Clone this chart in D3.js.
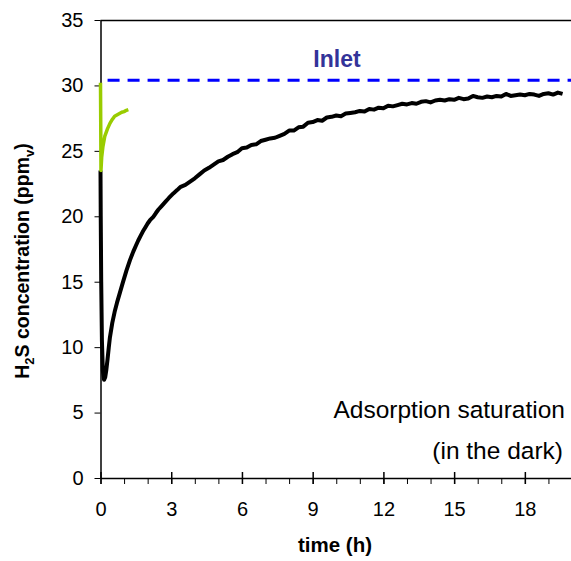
<!DOCTYPE html>
<html>
<head>
<meta charset="utf-8">
<script src="https://cdn.jsdelivr.net/npm/d3@7"></script>
<style>
  body { margin: 0; background: #fff; }
  text { font-family: Arial, "Liberation Sans", sans-serif; }
</style>
</head>
<body>
<div id="chart"></div>
<script>
// saturation run in the dark: [time h, H2S ppmv]
const darkRun = [
  [0, 23.5], [0.01, 20], [0.03, 15], [0.06, 10.5], [0.1, 8.2], [0.15, 7.5], [0.2, 7.7],
  [0.25, 8.3], [0.3, 9.1], [0.35, 9.95], [0.4, 10.75], [0.5, 11.85], [0.6, 12.7], [0.7, 13.4],
  [0.83, 14.2], [0.95, 14.95], [1.1, 15.85], [1.25, 16.65], [1.39, 17.3], [1.5, 17.75], [1.6, 18.15],
  [1.7, 18.5], [1.8, 18.85], [1.9, 19.15], [2.0, 19.45], [2.1, 19.7], [2.24, 19.96], [2.35, 20.25],
  [2.45, 20.5], [2.6, 20.8], [2.75, 21.1], [2.9, 21.4], [3.09, 21.75], [3.25, 22.0], [3.4, 22.25],
  [3.6, 22.4], [3.8, 22.65], [4.0, 22.9], [4.2, 23.2], [4.4, 23.5], [4.6, 23.7], [4.8, 23.95],
  [5.0, 24.2], [5.2, 24.3], [5.4, 24.55], [5.6, 24.75], [5.8, 24.9], [6.0, 25.2], [6.2, 25.25],
  [6.4, 25.45], [6.6, 25.5], [6.8, 25.75], [7.0, 25.85], [7.2, 25.95], [7.4, 26.0], [7.6, 26.15],
  [7.8, 26.3], [8.0, 26.55], [8.2, 26.55], [8.4, 26.8], [8.6, 26.85], [8.8, 27.15], [9.0, 27.2],
  [9.2, 27.35], [9.4, 27.3], [9.6, 27.55], [9.8, 27.6], [10.0, 27.7], [10.2, 27.65], [10.4, 27.85],
  [10.6, 27.9], [10.8, 27.95], [11.0, 28.05], [11.2, 28.0], [11.4, 28.2], [11.6, 28.15], [11.8, 28.3],
  [12.0, 28.25], [12.2, 28.45], [12.4, 28.4], [12.6, 28.5], [12.8, 28.6], [13.0, 28.55], [13.2, 28.65],
  [13.4, 28.6], [13.6, 28.75], [13.8, 28.8], [14.0, 28.7], [14.2, 28.85], [14.4, 28.9], [14.6, 28.85],
  [14.8, 28.95], [15.0, 28.9], [15.2, 29.05], [15.4, 28.95], [15.6, 29.0], [15.8, 29.2], [16.0, 29.1],
  [16.2, 29.05], [16.4, 29.15], [16.6, 29.1], [16.8, 29.2], [17.0, 29.15], [17.2, 29.35], [17.4, 29.2],
  [17.6, 29.25], [17.8, 29.3], [18.0, 29.25], [18.2, 29.35], [18.4, 29.3], [18.6, 29.2], [18.8, 29.35],
  [19.0, 29.4], [19.2, 29.3], [19.4, 29.45], [19.6, 29.35]
];

// short green run
const greenRun = [
  [0, 30.2], [0.01, 27], [0.02, 23.5], [0.05, 24.5], [0.1, 25.3], [0.18, 26.1], [0.3, 26.7],
  [0.4, 27.1], [0.5, 27.4], [0.6, 27.65], [0.75, 27.8], [0.9, 27.95], [1.0, 28.0], [1.1, 28.1],
  [1.18, 28.15]
];

const inletLevel = 30.4;
const inletStart = 0.3;
const xTicks = [0, 3, 6, 9, 12, 15, 18];
const xMinorTicks = d3.range(0, 21, 1);
const yTicks = [0, 5, 10, 15, 20, 25, 30, 35];

const width = 571, height = 561;
const plotLeft = 100.5, plotRight = 572, plotTop = 20, plotBottom = 478;

const svg = d3.select('#chart').append('svg')
    .attr('width', width)
    .attr('height', height);

const x = d3.scaleLinear().domain([0, 20]).range([plotLeft, plotRight]);
const y = d3.scaleLinear().domain([0, 35]).range([plotBottom, plotTop]);

// top border
svg.append('line')
    .attr('x1', plotLeft).attr('x2', width)
    .attr('y1', plotTop + 0.5).attr('y2', plotTop + 0.5)
    .attr('stroke', '#000').attr('stroke-width', 1.5);

// x axis: minor ticks below, major ticks crossing
const xMinor = svg.append('g')
    .attr('transform', `translate(0,${plotBottom})`)
    .call(d3.axisBottom(x).tickValues(xMinorTicks).tickSize(6).tickFormat(''));
xMinor.select('.domain').remove();
xMinor.selectAll('line').attr('stroke', '#000').attr('stroke-width', 1);

const xAxis = svg.append('g')
    .attr('transform', `translate(0,${plotBottom})`)
    .call(d3.axisBottom(x).tickValues(xTicks).tickSize(6).tickPadding(18).tickSizeOuter(0));
xAxis.select('.domain').attr('stroke', '#000').attr('stroke-width', 1.5);
xAxis.selectAll('.tick line').attr('y1', -6).attr('stroke', '#000').attr('stroke-width', 1.5);
xAxis.selectAll('.tick text').attr('font-size', 20).attr('fill', '#000')
    .style('font-family', 'Arial, "Liberation Sans", sans-serif');

const yAxis = svg.append('g')
    .attr('transform', `translate(${plotLeft},0)`)
    .call(d3.axisLeft(y).tickValues(yTicks).tickSize(6).tickPadding(11).tickSizeOuter(0));
yAxis.select('.domain').attr('stroke', '#000').attr('stroke-width', 1.5);
yAxis.selectAll('.tick line').attr('stroke', '#000').attr('stroke-width', 1);
yAxis.selectAll('.tick text').attr('font-size', 20).attr('fill', '#000')
    .style('font-family', 'Arial, "Liberation Sans", sans-serif');

// inlet line
svg.append('line')
    .attr('x1', x(inletStart)).attr('x2', width)
    .attr('y1', y(inletLevel)).attr('y2', y(inletLevel))
    .attr('stroke', '#0000ff')
    .attr('stroke-width', 3)
    .attr('stroke-dasharray', '12,8');

svg.append('text')
    .attr('x', 337).attr('y', 67)
    .attr('text-anchor', 'middle')
    .attr('font-size', 23).attr('font-weight', 'bold')
    .attr('fill', '#333399')
    .text('Inlet');

const line = d3.line().x(d => x(d[0])).y(d => y(d[1]));

svg.append('path')
    .datum(darkRun)
    .attr('d', line)
    .attr('fill', 'none')
    .attr('stroke', '#000')
    .attr('stroke-width', 4)
    .attr('stroke-linejoin', 'round');

svg.append('path')
    .datum(greenRun)
    .attr('d', line)
    .attr('fill', 'none')
    .attr('stroke', '#99cc00')
    .attr('stroke-width', 3.5)
    .attr('stroke-linejoin', 'round');

// annotation
svg.append('text')
    .attr('x', 565).attr('y', 418)
    .attr('text-anchor', 'end')
    .attr('font-size', 24.5)
    .attr('fill', '#000')
    .text('Adsorption saturation');

svg.append('text')
    .attr('x', 563).attr('y', 459)
    .attr('text-anchor', 'end')
    .attr('font-size', 24.5)
    .attr('fill', '#000')
    .text('(in the dark)');

// axis titles
svg.append('text')
    .attr('x', 335).attr('y', 552)
    .attr('text-anchor', 'middle')
    .attr('font-size', 20.5).attr('font-weight', 'bold')
    .text('time (h)');

const yTitle = svg.append('text')
    .attr('transform', 'translate(29,261) rotate(-90)')
    .attr('text-anchor', 'middle')
    .attr('font-size', 19.5).attr('font-weight', 'bold');
yTitle.append('tspan').text('H');
yTitle.append('tspan').attr('font-size', 13).attr('dy', 5).text('2');
yTitle.append('tspan').attr('dy', -5).text('S concentration (ppm');
yTitle.append('tspan').attr('font-size', 13).attr('dy', 5).text('v');
yTitle.append('tspan').attr('dy', -5).text(')');
</script>
</body>
</html>
